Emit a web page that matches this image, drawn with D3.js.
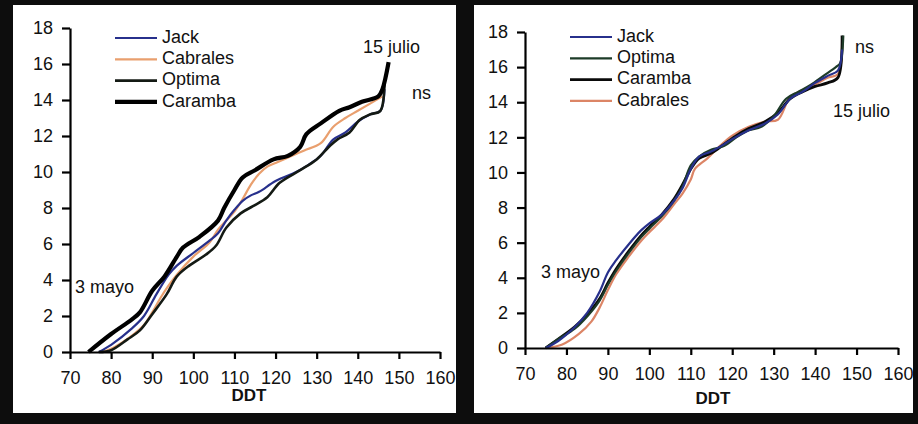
<!DOCTYPE html>
<html>
<head>
<meta charset="utf-8">
<script src="https://cdn.jsdelivr.net/npm/d3@7"></script>
<style>
  html, body { margin: 0; padding: 0; background: #0d0d0d; }
  svg { display: block; }
  text { font-family: "Liberation Sans", Arial, sans-serif; fill: #111; }
</style>
</head>
<body>
<svg id="chart" width="918" height="424"></svg>
<script>
// ticks shared by both panels
var xTicks = [70, 80, 90, 100, 110, 120, 130, 140, 150, 160];
var yTicks = [0, 2, 4, 6, 8, 10, 12, 14, 16, 18];

// left panel, [DDT, value]
var leftJack = [[77,0],[80,0.4],[85,1.3],[88,2.0],[91,3.2],[94,4.3],[96,4.8],[100,5.5],[104,6.2],[106,6.6],[108,7.3],[110,7.9],[112,8.4],[114,8.7],[116,8.9],[120,9.5],[125,10.0],[128,10.4],[131,10.9],[134,11.8],[137,12.2],[140,12.8],[143,13.2],[145.5,13.4],[146.5,14.6]];
var leftCabrales = [[78,0],[81,0.3],[85,0.9],[88,1.5],[90,2.2],[92,3.0],[94,3.7],[96,4.3],[100,5.3],[104,6.1],[106,6.8],[108,7.3],[110,7.8],[112,8.5],[114,9.3],[116,9.9],[118,10.3],[120,10.5],[124,10.9],[127,11.2],[131,11.6],[134,12.5],[137,13.0],[140,13.4],[143,13.8],[146,14.2]];
var leftOptima = [[77,0],[80,0.1],[84,0.7],[87,1.2],[90,2.1],[93.5,3.2],[96,4.2],[99,4.8],[103,5.4],[105.5,5.9],[108,6.9],[111.5,7.7],[114.5,8.1],[118,8.6],[121,9.4],[126,10.1],[130,10.7],[133,11.4],[135,11.8],[138,12.2],[140.5,12.9],[143,13.2],[145.5,13.4],[146.5,15.0]];
var leftCaramba = [[74.5,0],[80,1.0],[85,1.8],[87,2.2],[90,3.4],[93,4.2],[96,5.3],[97.5,5.8],[101.5,6.4],[106,7.3],[107.5,8.0],[110,9.0],[112,9.7],[115,10.1],[119.5,10.7],[123,10.9],[126,11.4],[127.5,12.1],[131,12.7],[135.5,13.4],[138,13.6],[141,13.9],[145,14.2],[146,14.6],[147.5,16.1]];

// right panel
var rightJack = [[75,0],[78,0.4],[82,1.2],[85,2.0],[88,3.2],[90,4.3],[92,5.0],[95,5.9],[98,6.7],[100,7.1],[103,7.6],[106,8.4],[108,9.1],[110,10.2],[112,10.9],[115,11.2],[118,11.6],[120,11.9],[124,12.4],[128,12.8],[131,13.3],[134,14.2],[137,14.6],[140,15.1],[143,15.5],[145.5,15.8],[146.5,17.0]];
var rightOptima = [[75,0],[78,0.5],[82,1.1],[85,1.8],[88,2.7],[90,3.6],[92,4.4],[95,5.4],[98,6.3],[100,6.8],[103,7.5],[106,8.4],[108,9.2],[110,10.4],[112,10.9],[115,11.3],[118,11.5],[121,12.0],[124,12.4],[127,12.6],[130,13.2],[133,14.2],[136,14.6],[139,15.0],[142,15.5],[145,16.0],[146,16.2],[146.8,17.8]];
var rightCaramba = [[75,0],[78,0.5],[82,1.2],[85,1.9],[88,2.8],[90,3.7],[92,4.5],[95,5.5],[98,6.4],[100,6.9],[103,7.6],[106,8.5],[108,9.3],[110,10.2],[112,10.8],[115,11.1],[118,11.6],[121,12.1],[124,12.5],[128,12.9],[131,13.4],[134,14.2],[137,14.6],[140,14.9],[143,15.1],[145.5,15.4],[146.5,17.8]];
var rightCabrales = [[75,0],[79,0.2],[83,0.8],[86,1.5],[88,2.3],[90,3.3],[92,4.2],[95,5.2],[98,6.1],[100,6.6],[103,7.3],[106,8.2],[108,8.8],[110,9.6],[111,10.2],[114,10.8],[117,11.5],[120,12.1],[124,12.6],[128,12.9],[131,13.0],[134,14.3],[137,14.7],[140,15.0],[143,15.4],[145.5,15.6],[146.5,17.3]];

var svg = d3.select("#chart");

function drawPanel(p) {
  // white sheet
  svg.append("rect")
    .attr("x", p.box[0]).attr("y", p.box[1])
    .attr("width", p.box[2]).attr("height", p.box[3])
    .attr("fill", "#fff");

  var x = d3.scaleLinear().domain([70, 160]).range(p.xr);
  var y = d3.scaleLinear().domain([0, 18]).range(p.yr);

  var g = svg.append("g");

  var line = d3.line()
    .x(d => x(d[0]))
    .y(d => y(d[1]))
    .curve(d3.curveCatmullRom.alpha(0.5));

  p.series.forEach(function (s) {
    g.append("path")
      .datum(s.data)
      .attr("fill", "none")
      .attr("stroke", s.color)
      .attr("stroke-width", s.width)
      .attr("stroke-linejoin", "round")
      .attr("d", line);
  });

  var yAxis = g.append("g")
    .attr("transform", "translate(" + p.xr[0] + ",0)")
    .call(d3.axisLeft(y).tickValues(yTicks).tickSize(8).tickSizeOuter(0).tickPadding(9));
  var xAxis = g.append("g")
    .attr("transform", "translate(0," + p.yr[0] + ")")
    .call(d3.axisBottom(x).tickValues(xTicks).tickSize(7).tickSizeOuter(0).tickPadding(12));

  [xAxis, yAxis].forEach(function (a) {
    a.select(".domain").attr("stroke", "#000").attr("stroke-width", 2.2);
    a.selectAll(".tick line").attr("stroke", "#000").attr("stroke-width", 2.2);
    a.selectAll(".tick text")
      .style("font-family", "Liberation Sans, Arial, sans-serif")
      .style("font-size", "18px")
      .attr("fill", "#111");
  });

  g.append("text")
    .attr("x", p.ddt[0]).attr("y", p.ddt[1])
    .attr("text-anchor", "middle")
    .attr("dominant-baseline", "middle")
    .style("font-size", "17px")
    .style("font-weight", "bold")
    .text("DDT");

  // legend
  p.series.slice().sort((a, b) => a.order - b.order).forEach(function (s, i) {
    var ly = p.legend[1] + i * 21.3;
    g.append("line")
      .attr("x1", p.legend[0]).attr("x2", p.legend[0] + 42)
      .attr("y1", ly).attr("y2", ly)
      .attr("stroke", s.color)
      .attr("stroke-width", s.width);
    g.append("text")
      .attr("x", p.legend[0] + 47).attr("y", ly)
      .attr("dominant-baseline", "middle")
      .style("font-size", "18px")
      .text(s.name);
  });

  p.notes.forEach(function (n) {
    g.append("text")
      .attr("x", n[1]).attr("y", n[2])
      .attr("dominant-baseline", "middle")
      .style("font-size", "18px")
      .text(n[0]);
  });
}

drawPanel({
  box: [13, 5, 443, 408],
  xr: [70, 440],
  yr: [352, 28],
  ddt: [249, 397],
  legend: [115, 38],
  series: [
    { name: "Cabrales", data: leftCabrales, color: "#e99f6e", width: 2.2, order: 1 },
    { name: "Jack", data: leftJack, color: "#27308c", width: 2.2, order: 0 },
    { name: "Optima", data: leftOptima, color: "#141a14", width: 2.6, order: 2 },
    { name: "Caramba", data: leftCaramba, color: "#000", width: 4.2, order: 3 }
  ],
  notes: [["3 mayo", 75, 288], ["15 julio", 363, 48], ["ns", 412, 94]]
});

drawPanel({
  box: [474, 5, 439, 408],
  xr: [525, 898],
  yr: [348, 32],
  ddt: [713, 400],
  legend: [570, 37],
  series: [
    { name: "Cabrales", data: rightCabrales, color: "#dc8566", width: 2.2, order: 3 },
    { name: "Caramba", data: rightCaramba, color: "#0a0a0a", width: 2.8, order: 2 },
    { name: "Optima", data: rightOptima, color: "#1d3b28", width: 2.2, order: 1 },
    { name: "Jack", data: rightJack, color: "#27308c", width: 2.2, order: 0 }
  ],
  notes: [["3 mayo", 541, 273], ["ns", 855, 48], ["15 julio", 833, 112]]
});
</script>
</body>
</html>
